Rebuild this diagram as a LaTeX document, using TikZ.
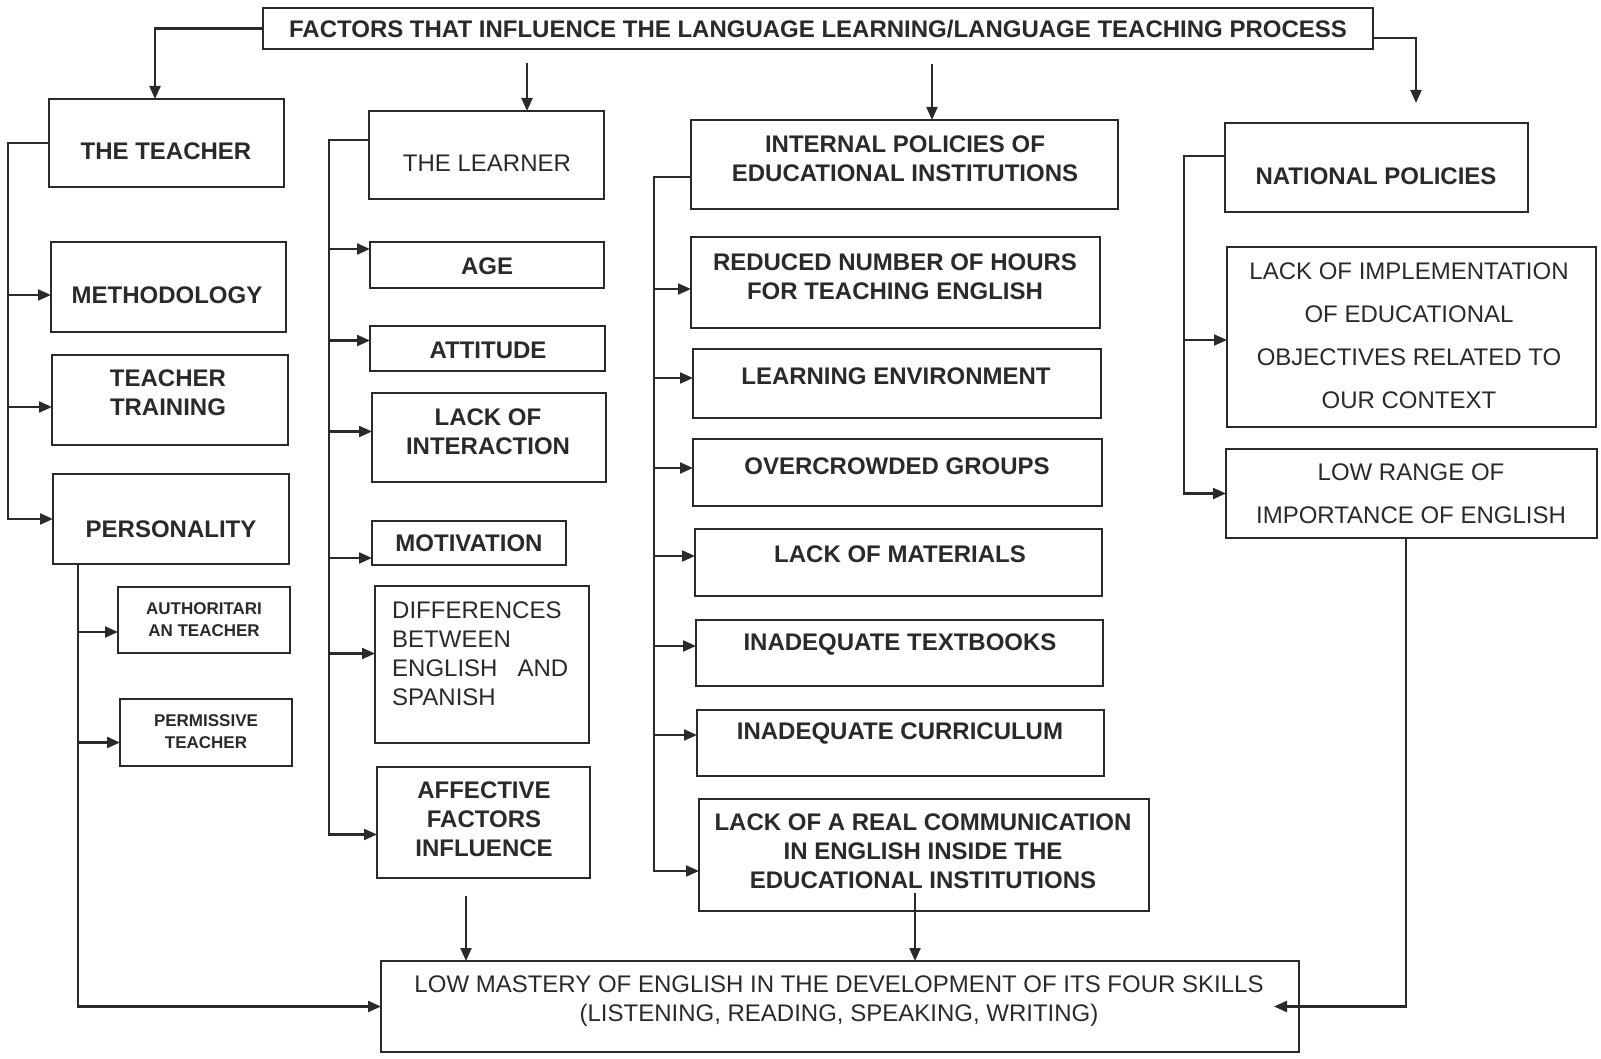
\documentclass[tikz,border=0pt]{standalone}
\usepackage{fontspec}
\setmainfont{Liberation Sans}
\usetikzlibrary{arrows.meta,calc}
\definecolor{ink}{HTML}{2A2A2A}
\newcommand\mkbox[5]{\node[box, minimum width={#4-#2}, minimum height={#5-#3}] (#1) at ({(#2+#4)/2},{(#3+#5)/2}) {};}
\tikzset{
  box/.style={draw=ink, line width=2.4pt, inner sep=0pt, outer sep=0pt},
  txt/.style={font=\fontsize{24}{29}\selectfont, align=center, inner sep=0pt, text=ink},
  btxt/.style={font=\fontsize{24}{29}\selectfont\bfseries, align=center, inner sep=0pt, text=ink},
  stxt/.style={font=\fontsize{17}{22}\selectfont\bfseries, align=center, inner sep=0pt, text=ink},
  conn/.style={draw=ink, line width=2.2pt},
  arr/.style={conn, -{Triangle[length=13pt,width=11pt]}}
}
\begin{document}
\begin{tikzpicture}[x=1pt,y=-1pt]
\fill[white] (0,0) rectangle (1601,1059);
\useasboundingbox (0,0) rectangle (1601,1059);

% ---- boxes ----
\mkbox{title}{263}{8}{1373}{49}
\mkbox{teacher}{49}{99}{284}{187}
\mkbox{learner}{369}{111}{604}{199}
\mkbox{internal}{691}{120}{1118}{209}
\mkbox{national}{1225}{123}{1528}{212}

\mkbox{method}{51}{242}{286}{332}
\mkbox{training}{52}{355}{288}{445}
\mkbox{person}{53}{474}{289}{564}
\mkbox{auth}{118}{587}{290}{653}
\mkbox{perm}{120}{699}{292}{766}

\mkbox{age}{370}{242}{604}{288}
\mkbox{attitude}{370}{326}{605}{371}
\mkbox{interact}{372}{393}{606}{482}
\mkbox{motiv}{372}{521}{566}{565}
\mkbox{diff}{375}{586}{589}{743}
\mkbox{affect}{377}{767}{590}{878}

\mkbox{reduced}{691}{237}{1100}{328}
\mkbox{envir}{693}{349}{1101}{418}
\mkbox{crowd}{693}{439}{1102}{506}
\mkbox{mater}{695}{529}{1102}{596}
\mkbox{books}{696}{620}{1103}{686}
\mkbox{curric}{697}{710}{1104}{776}
\mkbox{comm}{699}{799}{1149}{911}

\mkbox{implem}{1227}{247}{1596}{427}
\mkbox{range}{1226}{449}{1597}{538}

\mkbox{low}{381}{961}{1299}{1052}

% ---- texts ----
\node[btxt] (title-t) at (818,29) {FACTORS THAT INFLUENCE THE LANGUAGE LEARNING/LANGUAGE TEACHING PROCESS};
\node[btxt] (teacher-t) at (166,151) {THE TEACHER};
\node[txt] (learner-t) at (487,163) {THE LEARNER};
\node[btxt] (internal-t) at (905,159) {INTERNAL POLICIES OF\\EDUCATIONAL INSTITUTIONS};
\node[btxt] (national-t) at (1376,176) {NATIONAL POLICIES};

\node[btxt] (method-t) at (167,295) {METHODOLOGY};
\node[btxt] (training-t) at (168,393) {TEACHER\\TRAINING};
\node[btxt] (person-t) at (171,529) {PERSONALITY};
\node[stxt] (auth-t) at (204,620) {AUTHORITARI\\AN TEACHER};
\node[stxt] (perm-t) at (206,732) {PERMISSIVE\\TEACHER};

\node[btxt] (age-t) at (487,266) {AGE};
\node[btxt] (attitude-t) at (488,350) {ATTITUDE};
\node[btxt] (interact-t) at (488,432) {LACK OF\\INTERACTION};
\node[btxt] (motiv-t) at (469,543) {MOTIVATION};
\node[txt, text width=176pt, align=left, anchor=west] (diff-t) at (392,654)
  {DIFFERENCES\\BETWEEN\\\makebox[\linewidth][s]{ENGLISH\hfill AND}\\SPANISH};
\node[btxt] (affect-t) at (484,819) {AFFECTIVE\\FACTORS\\INFLUENCE};

\node[btxt] (reduced-t) at (895,277) {REDUCED NUMBER OF HOURS\\FOR TEACHING ENGLISH};
\node[btxt] (envir-t) at (896,376) {LEARNING ENVIRONMENT};
\node[btxt] (crowd-t) at (897,466) {OVERCROWDED GROUPS};
\node[btxt] (mater-t) at (900,554) {LACK OF MATERIALS};
\node[btxt] (books-t) at (900,644) {INADEQUATE TEXTBOOKS};
\node[btxt] (curric-t) at (900,733) {INADEQUATE CURRICULUM};
\node[btxt] (comm-t) at (923,851) {LACK OF A REAL COMMUNICATION\\IN ENGLISH INSIDE THE\\EDUCATIONAL INSTITUTIONS};

\node[txt, font=\fontsize{24}{43}\selectfont] (implem-t) at (1409,336) {LACK OF IMPLEMENTATION\\OF EDUCATIONAL\\OBJECTIVES RELATED TO\\OUR CONTEXT};
\node[txt, font=\fontsize{24}{43}\selectfont] (range-t) at (1411,494) {LOW RANGE OF\\IMPORTANCE OF ENGLISH};

\node[txt] (low-t) at (839,1001) {LOW MASTERY OF ENGLISH IN THE DEVELOPMENT OF ITS FOUR SKILLS\\(LISTENING, READING, SPEAKING, WRITING)};

% ---- bus coordinates ----
\coordinate (tbus) at (8,0);
\coordinate (pbus) at (78,0);
\coordinate (lbus) at (329,0);
\coordinate (ibus) at (654,0);
\coordinate (nbus) at (1184,0);
\coordinate (rbus) at (1406,0);
\coordinate (lrtop) at (527,63);
\coordinate (iptop) at (932,64);
\coordinate (nptip) at (1416,103);
\coordinate (ls) at (466,896);
\coordinate (cs) at (915,893);

% ---- title connectors ----
\draw[arr] (title.west) -| ([xshift=-11.5pt]teacher.north);
\draw[arr] (lrtop) -- (lrtop |- learner.north);
\draw[arr] (iptop) -- (iptop |- internal.north);
\draw[arr] ([yshift=-9.5pt]title.east) -| (nptip);

% ---- teacher column ----
\draw[arr] (teacher.west) -- (tbus |- teacher.west) -- (tbus |- person.west) -- (person.west);
\draw[arr] ([yshift=-8pt]tbus |- method.west) -- ([yshift=-8pt]method.west);
\draw[arr] ([yshift=-7pt]tbus |- training.west) -- ([yshift=-7pt]training.west);
\draw[arr] (pbus |- person.south) -- (pbus |- low.west) -- (low.west);
\draw[arr] ([yshift=-12pt]pbus |- auth.west) -- ([yshift=-12pt]auth.west);
\draw[arr] ([yshift=-10pt]pbus |- perm.west) -- ([yshift=-10pt]perm.west);

% ---- learner column ----
\draw[arr] ([yshift=15pt]learner.west) -- ([yshift=15pt]lbus |- learner.west) -- ([yshift=-12pt]lbus |- affect.west) -- ([yshift=-12pt]affect.west);
\draw[arr] ([yshift=16pt]lbus |- age.west) -- ([yshift=16pt]age.west);
\draw[arr] ([yshift=8pt]lbus |- attitude.west) -- ([yshift=8pt]attitude.west);
\draw[arr] ([yshift=6pt]lbus |- interact.west) -- ([yshift=6pt]interact.west);
\draw[arr] ([yshift=-15pt]lbus |- motiv.west) -- ([yshift=-15pt]motiv.west);
\draw[arr] ([yshift=11pt]lbus |- diff.west) -- ([yshift=11pt]diff.west);
\draw[arr] (ls) -- (ls |- low.north);

% ---- internal policies column ----
\draw[arr] ([yshift=-12.5pt]internal.west) -- ([yshift=-12.5pt]ibus |- internal.west) -- ([yshift=-16pt]ibus |- comm.west) -- ([yshift=-16pt]comm.west);
\draw[arr] ([yshift=-6.5pt]ibus |- reduced.west) -- ([yshift=-6.5pt]reduced.west);
\draw[arr] ([yshift=5.5pt]ibus |- envir.west) -- ([yshift=5.5pt]envir.west);
\draw[arr] ([yshift=4.5pt]ibus |- crowd.west) -- ([yshift=4.5pt]crowd.west);
\draw[arr] ([yshift=6.5pt]ibus |- mater.west) -- ([yshift=6.5pt]mater.west);
\draw[arr] ([yshift=7pt]ibus |- books.west) -- ([yshift=7pt]books.west);
\draw[arr] ([yshift=8pt]ibus |- curric.west) -- ([yshift=8pt]curric.west);
\draw[arr] (cs) -- (cs |- low.north);

% ---- national policies column ----
\draw[arr] ([yshift=11.5pt]national.west) -- ([yshift=11.5pt]nbus |- national.west) -- (nbus |- range.west) -- (range.west);
\draw[arr] ([yshift=-3pt]nbus |- implem.west) -- ([yshift=-3pt]implem.west);
\draw[arr] (rbus |- range.south) -- (rbus |- low.east) -- ([xshift=-25pt]low.east);
\end{tikzpicture}
\end{document}
